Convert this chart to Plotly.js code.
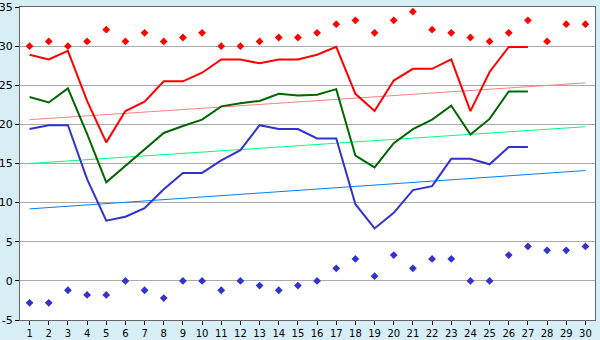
<!DOCTYPE html>
<html>
<head>
<meta charset="utf-8">
<script src="https://cdn.plot.ly/plotly-3.0.1.min.js"></script>
<style>html,body{margin:0;padding:0;background:#D8EEF6;}#chart{width:600px;height:340px;}</style>
</head>
<body>
<div id="chart"></div>
<script>
const days = Array.from({length: 30}, (_, i) => i + 1);
const lineDays = days.slice(0, 27);

const recordHigh = [30.0, 30.6, 30.0, 30.6, 32.1, 30.6, 31.7, 30.6, 31.1, 31.7,
                    30.0, 30.0, 30.6, 31.1, 31.1, 31.7, 32.8, 33.3, 31.7, 33.3,
                    34.4, 32.1, 31.7, 31.1, 30.6, 31.7, 33.3, 30.6, 32.8, 32.8];
const recordLow = [-2.8, -2.8, -1.2, -1.8, -1.8, 0.0, -1.2, -2.2, 0.0, 0.0,
                   -1.2, 0.0, -0.6, -1.2, -0.6, 0.0, 1.6, 2.8, 0.6, 3.3,
                   1.6, 2.8, 2.8, 0.0, 0.0, 3.3, 4.4, 3.9, 3.9, 4.4];

const maxTemp = [28.9, 28.3, 29.4, 23.0, 17.7, 21.7, 22.9, 25.5, 25.5, 26.6,
                 28.3, 28.3, 27.8, 28.3, 28.3, 28.9, 29.9, 23.9, 21.7, 25.6,
                 27.1, 27.1, 28.3, 21.7, 26.7, 29.9, 29.9];
const meanTemp = [23.5, 22.8, 24.6, 18.8, 12.6, 14.7, 16.8, 18.9, 19.8, 20.6,
                  22.3, 22.7, 23.0, 23.9, 23.7, 23.8, 24.5, 16.0, 14.5, 17.6,
                  19.4, 20.6, 22.4, 18.7, 20.7, 24.2, 24.2];
const minTemp = [19.4, 19.9, 19.9, 13.0, 7.7, 8.2, 9.3, 11.7, 13.8, 13.8,
                 15.4, 16.7, 19.9, 19.4, 19.4, 18.2, 18.2, 9.8, 6.7, 8.7,
                 11.6, 12.1, 15.6, 15.6, 14.9, 17.1, 17.1];

const trendDays = [1, 30];
const trendMax = [20.6, 25.3];
const trendMean = [15.0, 19.7];
const trendMin = [9.2, 14.1];

const yTicks = [-5, 0, 5, 10, 15, 20, 25, 30, 35];

const traces = [
  {x: trendDays, y: trendMax, mode: 'lines', line: {color: '#FF8080', width: 1}},
  {x: trendDays, y: trendMean, mode: 'lines', line: {color: '#00FF80', width: 1}},
  {x: trendDays, y: trendMin, mode: 'lines', line: {color: '#0080FF', width: 1}},
  {x: lineDays, y: maxTemp, mode: 'lines', line: {color: '#FF0000', width: 2}},
  {x: lineDays, y: meanTemp, mode: 'lines', line: {color: '#006600', width: 2}},
  {x: lineDays, y: minTemp, mode: 'lines', line: {color: '#3333CC', width: 2}},
  {x: days, y: recordHigh, mode: 'markers', marker: {symbol: 'diamond', size: 6, color: '#FF0000'}},
  {x: days, y: recordLow, mode: 'markers', marker: {symbol: 'diamond', size: 6, color: '#3333CC'}}
];

const layout = {
  width: 600, height: 340,
  margin: {l: 20, r: 5, t: 7, b: 20},
  paper_bgcolor: '#D8EEF6',
  plot_bgcolor: '#FFFFFF',
  showlegend: false,
  hovermode: false,
  font: {family: 'DejaVu Sans, sans-serif', size: 11, color: '#000'},
  xaxis: {
    range: [0.5, 30.5], tickmode: 'array', tickvals: days, ticktext: days.map(String),
    showgrid: false, zeroline: false, ticks: 'outside', ticklen: 4, tickcolor: '#000',
    showline: true, linecolor: '#666', linewidth: 1, mirror: true,
    tickfont: {family: 'DejaVu Sans, sans-serif', size: 10, color: '#000'}
  },
  yaxis: {
    range: [-5, 35], tickmode: 'array', tickvals: yTicks, ticktext: yTicks.map(String),
    showgrid: true, gridcolor: '#AAAAAA', gridwidth: 1, zeroline: false,
    ticks: 'outside', ticklen: 4, tickcolor: '#000',
    showline: true, linecolor: '#666', linewidth: 1, mirror: true,
    tickfont: {family: 'DejaVu Sans, sans-serif', size: 11, color: '#000'}
  }
};

Plotly.newPlot('chart', traces, layout, {staticPlot: true, displayModeBar: false});
</script>
</body>
</html>
